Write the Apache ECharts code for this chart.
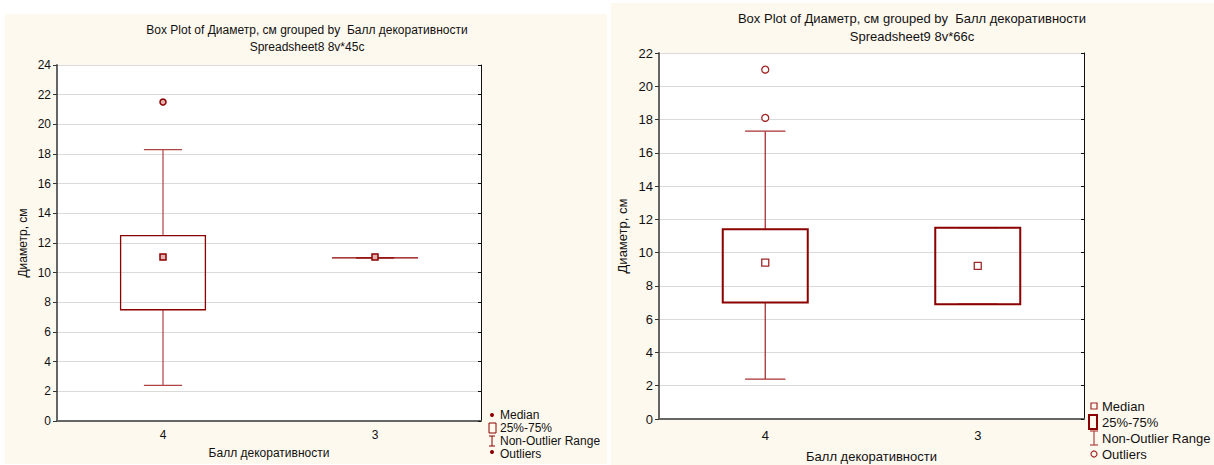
<!DOCTYPE html>
<html><head><meta charset="utf-8">
<script src="https://cdn.jsdelivr.net/npm/echarts@6/dist/echarts.min.js"></script>
<style>html,body{margin:0;padding:0;background:#fff}#c{width:1214px;height:465px}</style>
</head><body><div id="c"></div>
<script>
// ---------- data ----------
const categories = ['4', '3'];
const titleText = 'Box Plot of Диаметр, см grouped by  Балл декоративности';
const subtitle1 = 'Spreadsheet8 8v*45c';
const subtitle2 = 'Spreadsheet9 8v*66c';
const xName = 'Балл декоративности';
const yName = 'Диаметр, см';
const legendLabels = ['Median', '25%-75%', 'Non-Outlier Range', 'Outliers'];

// Panel 1 (Spreadsheet8)
const p1Min = [2.4, 11.0];
const p1Q1 = [7.5, 11.0];
const p1Median = [11.05, 11.05];
const p1Q3 = [12.5, 11.0];
const p1Max = [18.3, 11.0];
const p1Outliers = [['4', 21.5]];

// Panel 2 (Spreadsheet9)
const p2Min = [2.4, 6.9];
const p2Q1 = [7.0, 6.9];
const p2Median = [9.4, 9.2];
const p2Q3 = [11.4, 11.5];
const p2Max = [17.3, 11.5];
const p2Outliers = [['4', 21.0], ['4', 18.1]];

// ---------- chart ----------
const FONT = 'Liberation Sans, Arial, sans-serif';
const DARK = '#8B0000';
const WHISK = '#B04444';
const chart = echarts.init(document.getElementById('c'), null, {renderer: 'svg'});

function boxData(mn, q1, md, q3, mx) {
  return categories.map((c, i) => [i, mn[i], q1[i], md[i], q3[i], mx[i]]);
}
function makeRender(boxFrac, capFrac, boxW, whiskW, whiskColor) {
  return function (params, api) {
    const idx = api.value(0);
    const lo = api.coord([idx, api.value(1)]);
    const q1 = api.coord([idx, api.value(2)]);
    const q3 = api.coord([idx, api.value(4)]);
    const hi = api.coord([idx, api.value(5)]);
    const band = api.size([1, 0])[0];
    const bw = band * boxFrac, cw = band * capFrac;
    const x = lo[0];
    const ws = {stroke: whiskColor, lineWidth: whiskW, fill: null};
    return {type: 'group', children: [
      {type: 'line', shape: {x1: x, y1: hi[1], x2: x, y2: q3[1]}, style: ws},
      {type: 'line', shape: {x1: x, y1: q1[1], x2: x, y2: lo[1]}, style: ws},
      {type: 'line', shape: {x1: x - cw / 2, y1: hi[1], x2: x + cw / 2, y2: hi[1]}, style: ws},
      {type: 'line', shape: {x1: x - cw / 2, y1: lo[1], x2: x + cw / 2, y2: lo[1]}, style: ws},
      {type: 'rect', shape: {x: x - bw / 2, y: q3[1], width: bw, height: Math.max(q1[1] - q3[1], 0.01)},
        style: {stroke: DARK, lineWidth: boxW, fill: 'rgba(255,255,255,0)'}}
    ]};
  };
}

function xBottom(grid, fs, margin, nameGap) {
  return {gridIndex: grid, type: 'category', data: categories, position: 'bottom',
    axisLine: {lineStyle: {color: '#111', width: 1.5}},
    axisTick: {alignWithLabel: true, length: 4, lineStyle: {color: '#111'}},
    axisLabel: {margin: margin, fontSize: fs, color: '#111', fontFamily: FONT},
    splitLine: {show: false},
    name: xName, nameLocation: 'middle', nameGap: nameGap,
    nameTextStyle: {fontSize: fs, color: '#111', fontFamily: FONT}};
}
function xTop(grid) {
  return {gridIndex: grid, type: 'category', data: categories, position: 'top',
    axisLine: {lineStyle: {color: '#666', width: 2}},
    axisTick: {alignWithLabel: true, inside: true, length: 4, lineStyle: {color: '#333'}},
    axisLabel: {show: false}, splitLine: {show: false}};
}
function yLeft(grid, max, fs, nameGap) {
  return {gridIndex: grid, type: 'value', min: 0, max: max, interval: 2, position: 'left',
    axisLine: {show: true, lineStyle: {color: '#666', width: 2}},
    axisTick: {show: true, length: 4, lineStyle: {color: '#333'}},
    axisLabel: {margin: 6, fontSize: fs, color: '#111', fontFamily: FONT},
    splitLine: {show: true, lineStyle: {color: '#DADADA', width: 1.2}},
    name: yName, nameLocation: 'middle', nameGap: nameGap, nameRotate: 90,
    nameTextStyle: {fontSize: fs, color: '#111', fontFamily: FONT}};
}
function yRight(grid, max) {
  return {gridIndex: grid, type: 'value', min: 0, max: max, interval: 2, position: 'right',
    axisLine: {show: true, lineStyle: {color: '#111', width: 1}},
    axisTick: {show: true, inside: true, length: 3, lineStyle: {color: '#111'}},
    axisLabel: {show: false}, splitLine: {show: false}};
}

function legendGraphics(x, y0, dy, fs, style) {
  const els = [];
  const tx = x + 10;
  legendLabels.forEach((t, i) => {
    els.push({type: 'text', x: tx, y: y0 + i * dy, style: {text: t, fontSize: fs, fontFamily: FONT, fill: '#111', verticalAlign: 'middle'}});
  });
  if (style === 1) {
    els.push({type: 'circle', shape: {cx: x + 2, cy: y0, r: 2}, style: {fill: DARK}});
    els.push({type: 'rect', shape: {x: x - 1, y: y0 + dy - 5, width: 7, height: 10}, style: {fill: 'none', stroke: DARK, lineWidth: 1}});
    els.push({type: 'polyline', shape: {points: [[x - 1, y0 + 2 * dy - 5], [x + 5, y0 + 2 * dy - 5]]}, style: {stroke: DARK, lineWidth: 1}});
    els.push({type: 'polyline', shape: {points: [[x + 2, y0 + 2 * dy - 5], [x + 2, y0 + 2 * dy + 5]]}, style: {stroke: DARK, lineWidth: 1}});
    els.push({type: 'polyline', shape: {points: [[x - 1, y0 + 2 * dy + 5], [x + 5, y0 + 2 * dy + 5]]}, style: {stroke: DARK, lineWidth: 1}});
    els.push({type: 'circle', shape: {cx: x + 2, cy: y0 + 3 * dy - 2, r: 2}, style: {fill: DARK}});
  } else {
    els.push({type: 'rect', shape: {x: x - 1, y: y0 - 3, width: 6, height: 6}, style: {fill: 'none', stroke: '#A02828', lineWidth: 1.2}});
    els.push({type: 'rect', shape: {x: x - 3, y: y0 + dy - 7, width: 8, height: 14}, style: {fill: 'none', stroke: DARK, lineWidth: 2}});
    els.push({type: 'polyline', shape: {points: [[x - 2, y0 + 2 * dy - 7], [x + 6, y0 + 2 * dy - 7]]}, style: {stroke: WHISK, lineWidth: 1.2}});
    els.push({type: 'polyline', shape: {points: [[x + 2, y0 + 2 * dy - 7], [x + 2, y0 + 2 * dy + 7]]}, style: {stroke: WHISK, lineWidth: 1.2}});
    els.push({type: 'polyline', shape: {points: [[x - 2, y0 + 2 * dy + 7], [x + 6, y0 + 2 * dy + 7]]}, style: {stroke: WHISK, lineWidth: 1.2}});
    els.push({type: 'circle', shape: {cx: x + 2, cy: y0 + 3 * dy, r: 3}, style: {fill: 'none', stroke: '#A02828', lineWidth: 1.2}});
  }
  return els;
}

const graphics = [
  {type: 'rect', z: -100, silent: true, shape: {x: 5, y: 14, width: 602, height: 450}, style: {fill: '#FEF9EE'}},
  {type: 'rect', z: -100, silent: true, shape: {x: 611, y: 3, width: 603, height: 462}, style: {fill: '#FEF9EE'}},
  {type: 'text', x: 307, y: 30, style: {text: titleText, fontSize: 12, fontFamily: FONT, fill: '#111', align: 'center', verticalAlign: 'middle'}},
  {type: 'text', x: 307, y: 47, style: {text: subtitle1, fontSize: 12, fontFamily: FONT, fill: '#111', align: 'center', verticalAlign: 'middle'}},
  {type: 'text', x: 912, y: 18, style: {text: titleText, fontSize: 13, fontFamily: FONT, fill: '#111', align: 'center', verticalAlign: 'middle'}},
  {type: 'text', x: 912, y: 36, style: {text: subtitle2, fontSize: 13, fontFamily: FONT, fill: '#111', align: 'center', verticalAlign: 'middle'}}
].concat(legendGraphics(490, 415, 13, 12, 1), legendGraphics(1092, 406, 16, 13, 2));

const option = {
  backgroundColor: '#fff',
  animation: false,
  graphic: graphics,
  grid: [
    {left: 57, top: 65, width: 424, height: 356, show: true, backgroundColor: '#fff', borderWidth: 0, containLabel: false, outerBoundsMode: 'none'},
    {left: 659, top: 53, width: 425, height: 366, show: true, backgroundColor: '#fff', borderWidth: 0, containLabel: false, outerBoundsMode: 'none'}
  ],
  xAxis: [xBottom(0, 12, 8, 26), xBottom(1, 13, 10, 31), xTop(0), xTop(1)],
  yAxis: [yLeft(0, 24, 12, 28), yLeft(1, 22, 13, 30), yRight(0, 24), yRight(1, 22)],
  series: [
    {type: 'custom', xAxisIndex: 0, yAxisIndex: 0, z: 3,
      data: boxData(p1Min, p1Q1, p1Median, p1Q3, p1Max), encode: {x: 0, y: [1, 2, 3, 4, 5]},
      renderItem: makeRender(0.40, 0.18, 1.3, 1.2, WHISK)},
    {type: 'scatter', xAxisIndex: 0, yAxisIndex: 0, z: 5, symbol: 'rect', symbolSize: 6,
      data: categories.map((c, i) => [c, p1Median[i]]),
      itemStyle: {color: '#E6B3B3', borderColor: DARK, borderWidth: 1.5, opacity: 1}},
    {type: 'scatter', xAxisIndex: 0, yAxisIndex: 0, z: 5, symbol: 'circle', symbolSize: 6,
      data: p1Outliers,
      itemStyle: {color: '#E6B3B3', borderColor: DARK, borderWidth: 1.5, opacity: 1}},
    {type: 'custom', xAxisIndex: 1, yAxisIndex: 1, z: 3,
      data: boxData(p2Min, p2Q1, p2Median, p2Q3, p2Max), encode: {x: 0, y: [1, 2, 3, 4, 5]},
      renderItem: makeRender(0.40, 0.19, 2, 1.3, '#A83030')},
    {type: 'scatter', xAxisIndex: 1, yAxisIndex: 1, z: 5, symbol: 'rect', symbolSize: 7,
      data: categories.map((c, i) => [c, p2Median[i]]),
      itemStyle: {color: '#fff', borderColor: '#A02828', borderWidth: 1.3, opacity: 1}},
    {type: 'scatter', xAxisIndex: 1, yAxisIndex: 1, z: 5, symbol: 'circle', symbolSize: 7,
      data: p2Outliers,
      itemStyle: {color: '#fff', borderColor: '#A02828', borderWidth: 1.3, opacity: 1}}
  ]
};
chart.setOption(option);
</script>
</body></html>
